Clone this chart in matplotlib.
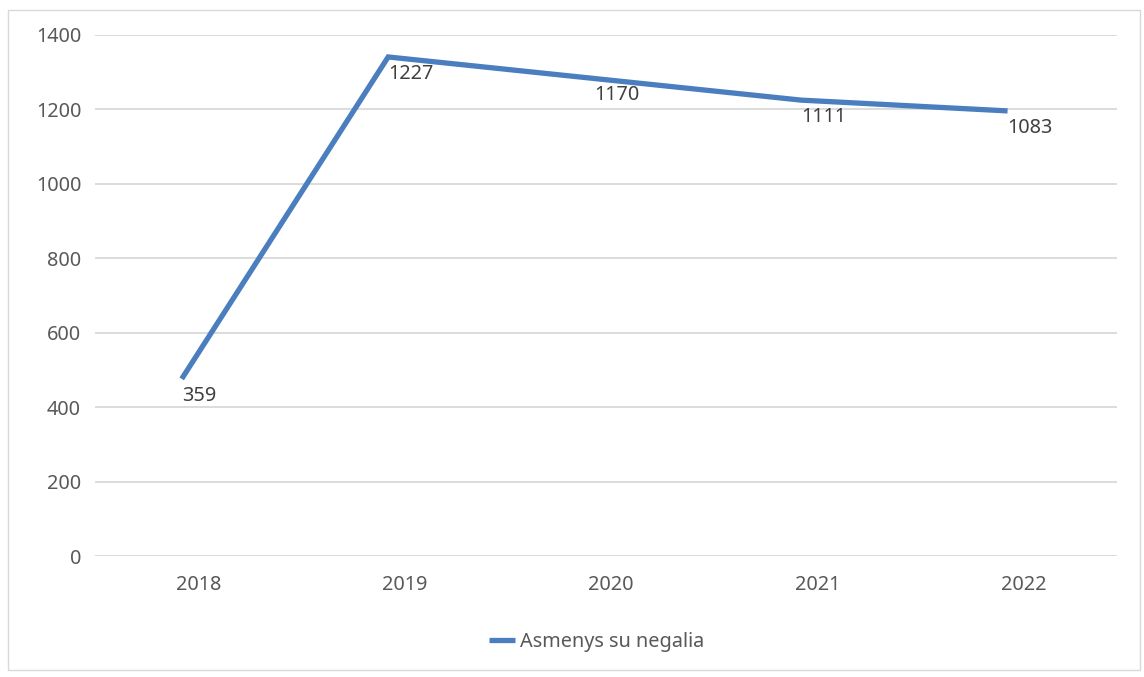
import matplotlib
matplotlib.use("Agg")
import matplotlib.pyplot as plt
from matplotlib.patches import Rectangle

years = ["2018", "2019", "2020", "2021", "2022"]
line_values = [476, 1341, 1283, 1225, 1196]
label_values = [359, 1227, 1170, 1111, 1083]
series_name = "Asmenys su negalia"

plt.rcParams['font.family'] = ['Noto Sans', 'DejaVu Sans']
FS = 14.3

fig = plt.figure(figsize=(11.44, 6.77), dpi=100)
fig.patches.append(Rectangle((8/1144, 1-670/677), 1132/1144, 660/677,
                             transform=fig.transFigure, fill=False,
                             edgecolor='#d9d9d9', linewidth=1.0))
ax = fig.add_axes([95/1144, 1-556/677, 1022/1144, 521/677])

xs = [i - 0.08 for i in range(len(years))]
line_color = '#4a7ebf'
ax.plot(xs, line_values, color=line_color, linewidth=3.8, solid_capstyle='butt',
        solid_joinstyle='miter', label=series_name, zorder=3)

for x, y, lab in zip(xs, line_values, label_values):
    ax.annotate(str(lab), (x, y), xytext=(0, -5), textcoords='offset points',
                ha='left', va='top', fontsize=FS, color='#404040', zorder=4)

ax.set_xlim(-0.5, 4.45)
ax.set_ylim(0, 1400)
ax.set_yticks(range(0, 1401, 200))
ax.set_xticks(range(len(years)))
ax.set_xticklabels(years)
ax.yaxis.grid(True, color='#d9d9d9', linewidth=1.3)
ax.set_axisbelow(True)
for s in ax.spines.values():
    s.set_visible(False)
ax.tick_params(axis='both', length=0, labelsize=FS, labelcolor='#595959')
ax.tick_params(axis='y', pad=10)
ax.tick_params(axis='x', pad=14)

leg = ax.legend(loc='center', bbox_to_anchor=(0.491, 1-(642-35)/521), frameon=False,
                fontsize=FS, handlelength=1.3, handletextpad=0.25,
                labelcolor='#595959')
fig.savefig("out.png", dpi=100, facecolor='white')
